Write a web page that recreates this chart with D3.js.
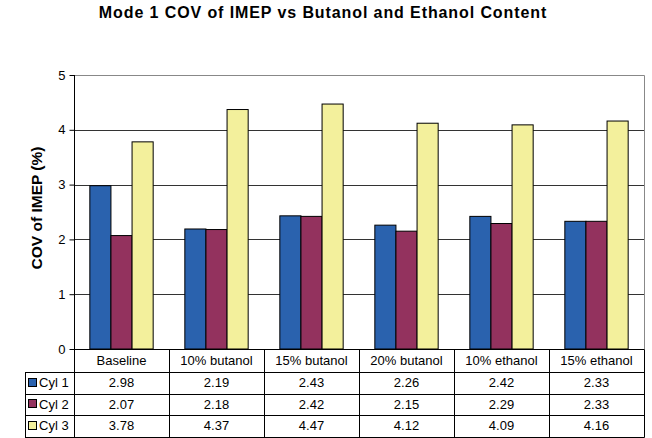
<!DOCTYPE html>
<html>
<head>
<meta charset="utf-8">
<script src="https://cdn.jsdelivr.net/npm/d3@7"></script>
<style>
  body { margin: 0; background: #fff; }
  svg { font-family: Arial, "Liberation Sans", sans-serif; }
</style>
</head>
<body>
<svg id="chart" width="652" height="438"></svg>
<script>
const categories = ['Baseline', '10% butanol', '15% butanol', '20% butanol', '10% ethanol', '15% ethanol'];
const seriesNames = ['Cyl 1', 'Cyl 2', 'Cyl 3'];
const cyl1 = [2.98, 2.19, 2.43, 2.26, 2.42, 2.33];
const cyl2 = [2.07, 2.18, 2.42, 2.15, 2.29, 2.33];
const cyl3 = [3.78, 4.37, 4.47, 4.12, 4.09, 4.16];
const yTicks = [0, 1, 2, 3, 4, 5];
const colors = ['#2a62ae', '#93325e', '#f3f09c'];

const series = [cyl1, cyl2, cyl3];

const svg = d3.select('#chart');
const plotLeft = 74, plotRight = 644, plotTop = 75, plotBottom = 349;
const tableLeft = 25;
const rowH = [23, 21.5, 21.5, 21.5];

const x = d3.scaleBand()
    .domain(categories)
    .range([plotLeft, plotRight]);

const xs = d3.scaleBand()
    .domain(seriesNames)
    .range([0, x.bandwidth()])
    .paddingOuter(0.75);

const y = d3.scaleLinear()
    .domain([0, 5])
    .range([plotBottom, plotTop]);

// title
svg.append('text')
    .attr('x', 323)
    .attr('y', 18)
    .attr('text-anchor', 'middle')
    .style('font-weight', 'bold')
    .style('font-size', '16px')
    .style('letter-spacing', '0.9px')
    .text('Mode 1 COV of IMEP vs Butanol and Ethanol Content');

// gridlines
svg.append('g')
    .selectAll('line')
    .data(yTicks.filter(d => d > 0 && d < 5))
    .enter().append('line')
    .attr('x1', plotLeft)
    .attr('x2', plotRight)
    .attr('y1', d => Math.round(y(d)) + 0.5)
    .attr('y2', d => Math.round(y(d)) + 0.5)
    .attr('stroke', '#333');

// plot border top/right
svg.append('path')
    .attr('d', `M${plotLeft},${Math.round(plotTop) + 0.5}H${plotRight + 0.5}V${plotBottom}`)
    .attr('fill', 'none')
    .attr('stroke', '#888');

// bars
const bars = svg.append('g');
series.forEach((vals, si) => {
    bars.selectAll(null)
        .data(vals)
        .enter().append('rect')
        .attr('x', (d, i) => x(categories[i]) + xs(seriesNames[si]))
        .attr('y', d => y(d))
        .attr('width', xs.bandwidth())
        .attr('height', d => y(0) - y(d))
        .attr('fill', colors[si])
        .attr('stroke', '#000')
        .attr('stroke-width', 1);
});

// y axis
const yAxis = svg.append('g')
    .attr('transform', `translate(${plotLeft + 0.5},0)`)
    .call(d3.axisLeft(y).tickValues(yTicks).tickSize(5).tickPadding(4).tickFormat(d3.format('d')));
yAxis.select('.domain').attr('d', `M0,${plotTop}V${plotBottom}`).attr('stroke', '#000');
yAxis.selectAll('.tick line').attr('stroke', '#000');
yAxis.selectAll('text').style('font-size', '13px').attr('fill', '#000');

svg.append('text')
    .attr('transform', `translate(42,208) rotate(-90)`)
    .attr('text-anchor', 'middle')
    .style('font-weight', 'bold')
    .style('font-size', '15.5px')
    .text('COV of IMEP (%)');

// data table
const rowY = [plotBottom];
rowH.forEach(h => rowY.push(rowY[rowY.length - 1] + h));
const table = svg.append('g');

// horizontal lines
table.selectAll('.hline')
    .data(rowY)
    .enter().append('line')
    .attr('x1', (d, i) => i === 0 ? plotLeft : tableLeft)
    .attr('x2', plotRight + 0.5)
    .attr('y1', d => Math.round(d) + 0.5)
    .attr('y2', d => Math.round(d) + 0.5)
    .attr('stroke', '#000');

// vertical lines
const vx = categories.map(c => x(c)).concat([plotRight]);
table.selectAll('.vline')
    .data(vx)
    .enter().append('line')
    .attr('x1', d => Math.round(d) + 0.5)
    .attr('x2', d => Math.round(d) + 0.5)
    .attr('y1', Math.round(rowY[0]) + 0.5)
    .attr('y2', Math.round(rowY[4]) + 0.5)
    .attr('stroke', '#000');
table.append('line')
    .attr('x1', tableLeft + 0.5).attr('x2', tableLeft + 0.5)
    .attr('y1', Math.round(rowY[1]) + 0.5).attr('y2', Math.round(rowY[4]) + 0.5)
    .attr('stroke', '#000');

// header labels
table.selectAll('.hdr')
    .data(categories)
    .enter().append('text')
    .attr('x', d => x(d) + x.bandwidth() / 2)
    .attr('y', (rowY[0] + rowY[1]) / 2 + 4.5)
    .attr('text-anchor', 'middle')
    .style('font-size', '13px')
    .text(d => d);

// rows
series.forEach((vals, si) => {
    const cy = (rowY[si + 1] + rowY[si + 2]) / 2;
    table.append('rect')
        .attr('x', 28.5)
        .attr('y', Math.round(cy - 4) - 0.5)
        .attr('width', 8)
        .attr('height', 8)
        .attr('fill', colors[si])
        .attr('stroke', '#000');
    table.append('text')
        .attr('x', 39)
        .attr('y', cy + 4.5)
        .style('font-size', '13px')
        .text(seriesNames[si]);
    table.selectAll(null)
        .data(vals)
        .enter().append('text')
        .attr('x', (d, i) => x(categories[i]) + x.bandwidth() / 2)
        .attr('y', cy + 4.5)
        .attr('text-anchor', 'middle')
        .style('font-size', '13px')
        .text(d => d.toFixed(2));
});
</script>
</body>
</html>
